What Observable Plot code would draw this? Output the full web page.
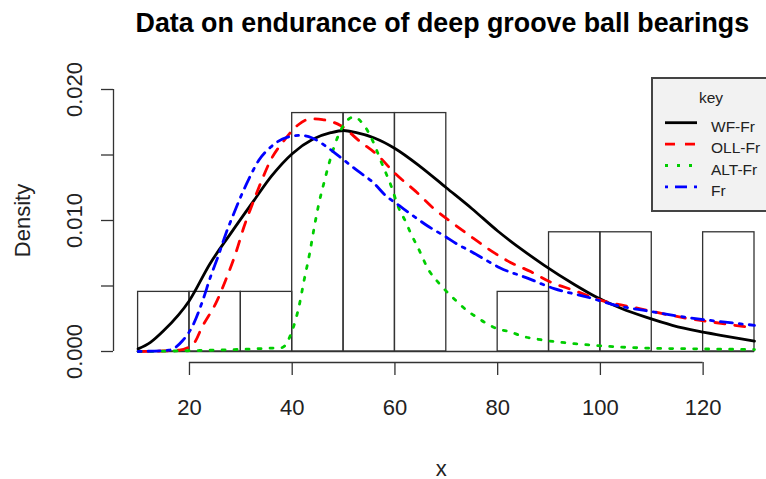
<!DOCTYPE html>
<html><head><meta charset="utf-8">
<script src="https://cdn.jsdelivr.net/npm/d3@7"></script>
<script src="https://cdn.jsdelivr.net/npm/@observablehq/plot@0.6"></script>
<style>
body{margin:0;background:#fff;}
#wrap{position:relative;width:766px;height:479px;overflow:hidden;}
#legend{position:absolute;left:651px;top:77px;width:115px;height:135px;box-sizing:border-box;border:2px solid #444;border-right:none;background:#f2f2f2;}
#legend text{font-family:"Liberation Sans",Arial,sans-serif;fill:#222;}
</style></head><body><div id="wrap"></div>
<script>
const title = "Data on endurance of deep groove ball bearings";
const xLabel = "x";
const yLabel = "Density";
const legendTitle = "key";
const seriesNames = ["WF-Fr", "OLL-Fr", "ALT-Fr", "Fr"];
const seriesColors = ["#000000", "#ff0000", "#00cd00", "#0000ff"];
const seriesDash = ["none", "10,10", "3,9", "3,7,12,7"];

const xTicks = [20, 40, 60, 80, 100, 120];
const yTicks = [0, 0.005, 0.01, 0.015, 0.02];
const yTickLabels = [0, 0.01, 0.02];

// histogram
const binEdges = [10, 20, 30, 40, 50, 60, 70, 80, 90, 100, 110, 120, 130];
const binDensity = [0.00455, 0.00455, 0.00455, 0.0182, 0.0182, 0.0182, 0, 0.00455, 0.0091, 0.0091, 0, 0.0091];

// WF-Fr
const wfX = [10, 12.4, 15, 20, 24, 28, 32.5, 36, 40, 44, 47.5, 50, 52.5, 56, 60, 65, 70, 75, 80, 85, 89, 95, 99, 104, 109, 114, 119, 124, 130];
const wfY = [0.0002, 0.0007, 0.0016, 0.0039, 0.0067, 0.0090, 0.0115, 0.0134, 0.0151, 0.0162, 0.0167, 0.01687, 0.0167, 0.0163, 0.0155, 0.0141, 0.0125, 0.0109, 0.0092, 0.0077, 0.0066, 0.0051, 0.0042, 0.0033, 0.0026, 0.0020, 0.00155, 0.0012, 0.0008];
// OLL-Fr
const ollX = [10, 18, 20.8, 22.5, 25.4, 27, 29, 30.6, 32, 33.8, 35.8, 38.4, 41, 43.6, 45.9, 49.4, 53.3, 56.6, 60.1, 64, 67.6, 70.9, 74.7, 78.3, 82, 86.4, 90.3, 94.9, 99.4, 107.8, 115.6, 120.8, 130];
const ollY = [0, 0.0001, 0.0006, 0.0019, 0.0039, 0.0054, 0.0075, 0.0095, 0.0110, 0.0128, 0.0146, 0.0161, 0.01725, 0.01776, 0.0177, 0.01725, 0.0160, 0.0150, 0.01356, 0.01224, 0.0109, 0.0099, 0.0088, 0.0078, 0.0069, 0.0061, 0.0053, 0.00466, 0.0040, 0.00326, 0.00262, 0.0023, 0.0018];
// ALT-Fr
const altX = [10, 38, 40, 41.3, 42.3, 43.4, 44.3, 45.2, 46.2, 47.5, 49.1, 50.4, 52, 54, 55.3, 56.3, 57.3, 59.2, 60.8, 62.1, 63.1, 64.4, 66.6, 68.6, 70.5, 72.1, 74.1, 76, 78, 80.2, 82.5, 84.5, 88.4, 94.9, 101.4, 109.8, 119.5, 130];
const altY = [0, 0.0003, 0.0016, 0.0034, 0.0054, 0.0075, 0.0095, 0.0113, 0.0129, 0.0148, 0.0166, 0.0175, 0.0179, 0.01725, 0.0164, 0.0155, 0.0145, 0.0127, 0.0109, 0.0099, 0.0090, 0.0080, 0.0062, 0.0052, 0.0044, 0.0038, 0.0031, 0.0026, 0.0021, 0.0017, 0.0015, 0.0012, 0.0009, 0.0006, 0.0004, 0.00025, 0.0002, 0.00015];
// Fr
const frX = [10, 16, 18.6, 20.8, 22.5, 24.1, 25.7, 27, 28.6, 30.3, 31.6, 33.5, 35.8, 37.1, 39.1, 41.6, 43.9, 46.8, 50.1, 52.7, 55.9, 58.2, 60.8, 63.4, 66.3, 69.5, 72.1, 74.7, 77.6, 80.4, 85.8, 91, 97.5, 103.3, 109.1, 115.6, 120.8, 130];
const frY = [0, 0.0001, 0.0008, 0.0021, 0.0038, 0.0057, 0.0074, 0.0089, 0.0105, 0.0121, 0.0132, 0.0146, 0.0156, 0.0160, 0.01636, 0.0165, 0.0163, 0.0156, 0.0146, 0.0138, 0.01285, 0.0119, 0.01115, 0.0104, 0.0096, 0.00885, 0.0082, 0.00766, 0.0070, 0.0064, 0.0056, 0.0048, 0.00415, 0.0035, 0.0031, 0.00267, 0.0024, 0.0020];

const bins = binDensity.map((d, i) => ({x1: binEdges[i], x2: binEdges[i + 1], y1: 0, y2: d}));
const pts = (xa, ya) => xa.map((x, i) => ({x, y: ya[i]}));
const curves = [pts(wfX, wfY), pts(ollX, ollY), pts(altX, altY), pts(frX, frY)];

const FONT = "'Liberation Sans', Arial, sans-serif";
const lineMarks = curves.map((c, i) => Plot.line(c, {
  x: "x", y: "y", stroke: seriesColors[i], strokeWidth: 2.8,
  strokeDasharray: seriesDash[i] === "none" ? null : seriesDash[i],
  curve: "monotone-x"
}));

const chart = Plot.plot({
  width: 766, height: 479,
  marginLeft: 137.6, marginRight: 12, marginTop: 89, marginBottom: 128,
  x: {domain: [binEdges[0], binEdges[binEdges.length - 1]]},
  y: {domain: [yTicks[0], yTicks[yTicks.length - 1]]},
  style: {fontFamily: FONT, background: "white", color: "#222"},
  marks: [
    Plot.rect(bins, {x1: "x1", x2: "x2", y1: "y1", y2: "y2", fill: "none", stroke: "#333", strokeWidth: 1.3}),
    Plot.ruleY([0], {x1: binEdges[0], x2: binEdges[binEdges.length - 1], stroke: "#333", strokeWidth: 1.3}),
    ...lineMarks,
    Plot.axisX({ticks: xTicks, tickSize: 13, dy: 11, tickPadding: 24, fontSize: 22, label: null, tickFormat: d => String(d), stroke: "#333", strokeWidth: 1.3}),
    Plot.ruleY([0], {x1: xTicks[0], x2: xTicks[xTicks.length - 1], dy: 11, stroke: "#333", strokeWidth: 1.3}),
    Plot.axisY({ticks: yTicks, tickSize: 12, dx: -24.6, tickFormat: () => "", label: null, stroke: "#333", strokeWidth: 1.3}),
    Plot.ruleX([binEdges[0]], {y1: yTicks[0], y2: yTicks[yTicks.length - 1], dx: -24.6, stroke: "#333", strokeWidth: 1.3}),
    Plot.text(yTickLabels, {y: d => d, frameAnchor: "left", dx: -56, rotate: -90, text: d => d3.format(".3f")(d), fontSize: 22, textAnchor: "middle", lineAnchor: "bottom", fill: "#222"}),
    Plot.text([yLabel], {frameAnchor: "left", dx: -108, rotate: -90, fontSize: 22, textAnchor: "middle", lineAnchor: "bottom", fill: "#222"}),
    Plot.text([xLabel], {frameAnchor: "bottom", dy: 124, dx: -5, fontSize: 22, lineAnchor: "bottom", fill: "#222"}),
    Plot.text([title], {frameAnchor: "top", dy: -58, dx: -4, fontSize: 26.8, fontWeight: "bold", lineAnchor: "bottom", fill: "#000"})
  ]
});
const wrap = document.getElementById("wrap");
wrap.appendChild(chart);

// legend
const ns = "http://www.w3.org/2000/svg";
const lg = document.createElement("div");
lg.id = "legend";
const svg = document.createElementNS(ns, "svg");
svg.setAttribute("width", 113); svg.setAttribute("height", 131);
const kt = document.createElementNS(ns, "text");
kt.setAttribute("x", 58); kt.setAttribute("y", 24); kt.setAttribute("text-anchor", "middle");
kt.setAttribute("font-size", 15.5); kt.textContent = legendTitle;
svg.appendChild(kt);
seriesNames.forEach((name, i) => {
  const yc = 43.7 + i * 21.4;
  const ln = document.createElementNS(ns, "line");
  ln.setAttribute("x1", 12); ln.setAttribute("x2", 44);
  ln.setAttribute("y1", yc); ln.setAttribute("y2", yc);
  ln.setAttribute("stroke", seriesColors[i]); ln.setAttribute("stroke-width", 2.8);
  if (seriesDash[i] !== "none") ln.setAttribute("stroke-dasharray", seriesDash[i]);
  svg.appendChild(ln);
  const tx = document.createElementNS(ns, "text");
  tx.setAttribute("x", 58); tx.setAttribute("y", yc + 9);
  tx.setAttribute("font-size", 15.5); tx.textContent = name;
  svg.appendChild(tx);
});
lg.appendChild(svg);
wrap.appendChild(lg);
</script>
</body></html>
